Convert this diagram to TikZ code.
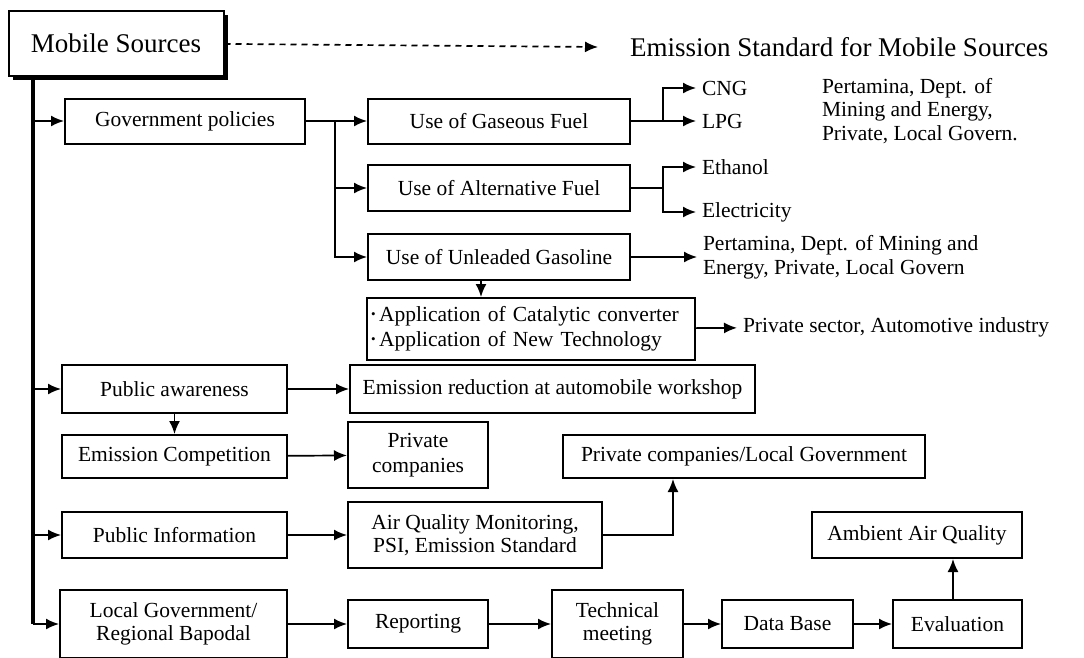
\documentclass[tikz,border=0pt]{standalone}
\usepackage{fontspec}
\setmainfont{Liberation Serif}
\usetikzlibrary{arrows.meta}
\usetikzlibrary{shadows}

\begin{document}
\begin{tikzpicture}[x=1pt,y=-1pt]

\tikzstyle{block}=[rectangle, draw, line width=2pt, inner sep=2pt, align=center, fill=white, font=\fontsize{21.5}{23}\selectfont]
\tikzstyle{note}=[inner sep=0pt, outer sep=6pt, anchor=west, align=left, font=\fontsize{21.5}{23.5}\selectfont]
\tikzstyle{link}=[line width=1.7pt, -{Latex[length=13pt,width=11pt]}]
\tikzstyle{spine}=[line width=3.4pt]

\useasboundingbox (0,0) rectangle (1084,657);

% head
\node[block, minimum width=215pt, minimum height=65pt, font=\fontsize{27}{30}\selectfont,
  drop shadow={shadow xshift=4pt, shadow yshift=-4pt, opacity=1, fill=black}] (mobile) at (116,43) {Mobile Sources};
\node[note, outer sep=0pt, font=\fontsize{27}{30}\selectfont] (title) at (630,47) {Emission Standard for Mobile Sources};

% government policies branch
\node[block, minimum width=240pt, minimum height=45pt] (policy) at (185,121) {Government policies};
\node[block, minimum width=262pt, minimum height=45pt] (gas) at (499,121) {Use of Gaseous Fuel};
\node[block, minimum width=262pt, minimum height=46pt] (alt) at (499,188) {Use of Alternative Fuel};
\node[block, minimum width=262pt, minimum height=46pt] (unleaded) at (499,257) {Use of Unleaded Gasoline};
\node[block, text width=320pt, inner sep=4pt, minimum height=62pt, align=left, font=\fontsize{21.5}{25}\selectfont] (catalytic) at (531,329)
  {{\fontsize{13}{13}\selectfont\raisebox{3pt}{•}}\,Application of Catalytic converter\\
   {\fontsize{13}{13}\selectfont\raisebox{3pt}{•}}\,Application of New Technology};

\node[note] (cng) at (696,88) {CNG};
\node[note] (lpg) at (696,121) {LPG};
\node[note, outer sep=0pt] (pert1) at (822,111) {Pertamina, Dept. of\\Mining and Energy,\\Private, Local Govern.};
\node[note] (ethanol) at (696,167) {Ethanol};
\node[note] (electricity) at (696,212) {Electricity};
\node[note] (pert2) at (697,257) {Pertamina, Dept. of Mining and\\Energy, Private, Local Govern};
\node[note] (privsector) at (737,327) {Private sector, Automotive industry};

% public branches
\node[block, minimum width=225pt, minimum height=48pt] (awareness) at (174.5,389) {Public awareness};
\node[block, minimum width=405pt, minimum height=48pt] (reduction) at (552.5,389) {Emission reduction at automobile workshop};
\node[block, minimum width=225pt, minimum height=43pt] (competition) at (174.5,456.5) {Emission Competition};
\node[block, minimum width=140pt, minimum height=66pt] (privco) at (418,455) {Private\\[2pt]companies};
\node[block, minimum width=362pt, minimum height=43pt] (privlocal) at (744,456.5) {Private companies/Local Government};
\node[block, minimum width=225pt, minimum height=46pt] (information) at (174.5,535) {Public Information};
\node[block, minimum width=254pt, minimum height=66pt] (airq) at (475,535) {Air Quality Monitoring,\\PSI, Emission Standard};
\node[block, minimum width=210pt, minimum height=46pt] (ambient) at (917,535) {Ambient Air Quality};

% local government row
\node[block, minimum width=227pt, minimum height=68pt] (localgov) at (173.5,624) {Local Government/\\Regional Bapodal};
\node[block, minimum width=140pt, minimum height=48pt] (reporting) at (418,624) {Reporting};
\node[block, minimum width=131pt, minimum height=68pt] (technical) at (617.5,624) {Technical\\meeting};
\node[block, minimum width=131pt, minimum height=48pt] (database) at (787.5,624) {Data Base};
\node[block, minimum width=129pt, minimum height=48pt] (evaluation) at (957.5,624) {Evaluation};

\coordinate (trunk) at (33,80);
\coordinate (pfork) at (335,0);
\coordinate (gfork) at (663,0);
\coordinate (afork) at (663,0);
\coordinate (drop) at (481,0);
\coordinate (riser) at (673,0);
\coordinate (lift) at (953,0);

\draw[link, dashed, dash pattern=on 6pt off 5pt] (mobile) -- ([xshift=-32pt]title.west);

\draw[spine] (trunk) -- (trunk |- localgov);
\draw[link] (trunk |- policy) -- (policy);
\draw[link] (trunk |- awareness) -- (awareness);
\draw[link] (trunk |- information) -- (information);
\draw[link] (trunk |- localgov) -- (localgov);

\draw[link] (policy) -- (gas);
\draw[link] (pfork |- policy) |- (unleaded);
\draw[link] (pfork |- alt) -- (alt);

\draw[link] (gas) -- (lpg);
\draw[link] (gfork |- gas) |- (cng);
\draw[link] (alt.east) -- (afork |- alt) |- (ethanol);
\draw[link] (afork |- alt) |- (electricity);
\draw[link] (unleaded) -- (pert2);
\draw[link] (drop |- unleaded.south) -- (drop |- catalytic.north);
\draw[link] (catalytic) -- (privsector);

\draw[link] (awareness) -- (reduction);
\draw[link] (awareness) -- (competition);
\draw[link] (competition) -- (privco);
\draw[link] (information) -- (airq);
\draw[link] (airq) -| (riser |- privlocal.south);

\draw[link] (localgov) -- (reporting);
\draw[link] (reporting) -- (technical);
\draw[link] (technical) -- (database);
\draw[link] (database) -- (evaluation);
\draw[link] (lift |- evaluation.north) -- (lift |- ambient.south);

\end{tikzpicture}
\end{document}
